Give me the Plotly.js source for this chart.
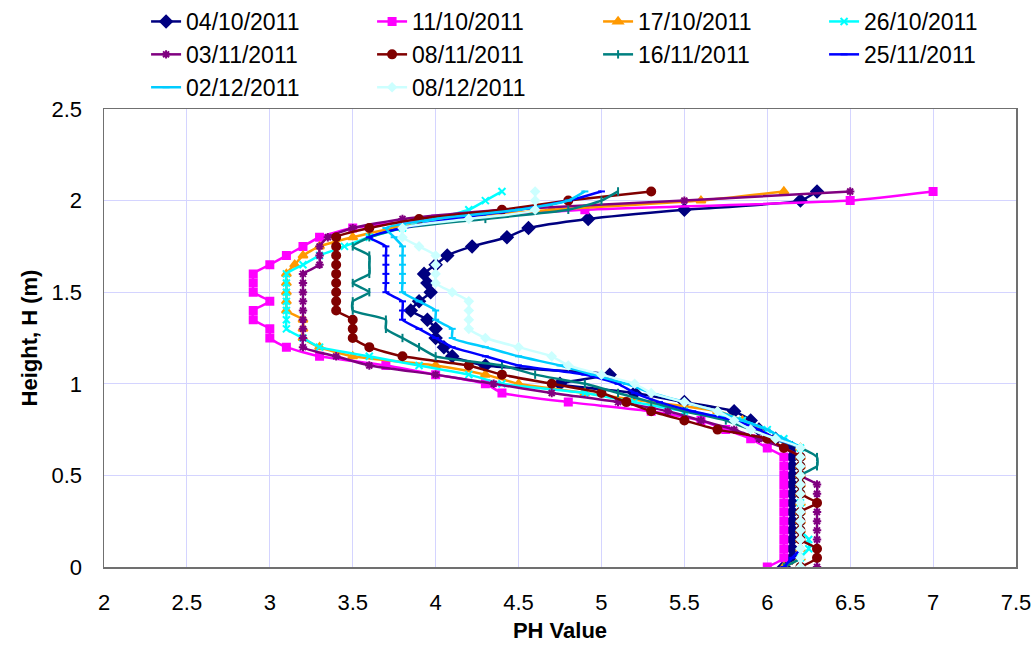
<!DOCTYPE html>
<html>
<head>
<meta charset="utf-8">
<script src="https://cdn.plot.ly/plotly-3.0.1.min.js"></script>
<style>html,body{margin:0;padding:0;background:#fff;}#chart{width:1036px;height:646px;}</style>
</head>
<body>
<div id="chart"></div>
<script>
// Heights (m)
var heights = [0, 0.05, 0.1, 0.15, 0.2, 0.25, 0.3, 0.35, 0.4, 0.45, 0.5, 0.55, 0.6, 0.65,
  0.7, 0.75, 0.8, 0.85, 0.9, 0.95, 1.0, 1.05, 1.1, 1.15, 1.2, 1.25, 1.3, 1.35,
  1.4, 1.45, 1.5, 1.55, 1.6, 1.65, 1.7, 1.75, 1.8, 1.85, 1.9, 1.95, 2.0, 2.05];

var seriesNames = ["04/10/2011", "11/10/2011", "17/10/2011", "26/10/2011", "03/11/2011",
  "08/11/2011", "16/11/2011", "25/11/2011", "02/12/2011", "08/12/2011"];

// pH values per date (bottom to top)
var ph_04_10 = [6.1, 6.15, 6.15, 6.15, 6.15, 6.15, 6.15, 6.15, 6.15, 6.15, 6.15, 6.15, 6.15, 6.15,
  6.05, 5.95, 5.9, 5.8, 5.5, 5.2, 4.75, 5.05, 4.3, 4.1, 4.05, 4.0, 4.0, 3.95,
  3.85, 3.9, 3.97, 3.95, 3.93, 4.0, 4.07, 4.22, 4.43, 4.56, 4.92, 5.5, 6.2, 6.3];
var ph_11_10 = [6.0, 6.1, 6.1, 6.1, 6.1, 6.1, 6.1, 6.1, 6.1, 6.1, 6.1, 6.1, 6.1, 6.0,
  5.9, 5.75, 5.6, 5.3, 4.8, 4.4, 4.3, 4.0, 3.7, 3.3, 3.1, 3.0, 3.0, 2.9,
  2.9, 3.0, 2.9, 2.9, 2.9, 3.0, 3.1, 3.2, 3.3, 3.5, 4.0, 4.9, 6.5, 7.0];
var ph_17_10 = [6.1, 6.2, 6.2, 6.2, 6.2, 6.2, 6.2, 6.2, 6.2, 6.2, 6.2, 6.2, 6.2, 6.2,
  6.05, 5.95, 5.85, 5.7, 5.3, 4.9, 4.5, 4.3, 4.0, 3.5, 3.3, 3.2, 3.2, 3.2,
  3.1, 3.1, 3.1, 3.1, 3.1, 3.15, 3.2, 3.3, 3.5, 3.75, 4.1, 4.7, 5.6, 6.1];
var ph_26_10 = [6.2, 6.2, 6.25, 6.25, 6.2, 6.2, 6.2, 6.2, 6.2, 6.2, 6.2, 6.2, 6.2, 6.2,
  6.1, 6.0, 5.85, 5.5, 5.2, 4.9, 4.4, 4.2, 3.9, 3.6, 3.3, 3.2, 3.1, 3.1,
  3.1, 3.1, 3.1, 3.1, 3.1, 3.2, 3.3, 3.45, 3.6, 3.8, 4.0, 4.2, 4.3, 4.4];
var ph_03_11 = [6.3, 6.3, 6.3, 6.3, 6.3, 6.3, 6.3, 6.3, 6.3, 6.3, 6.2, 6.2, 6.2, 6.1,
  5.95, 5.8, 5.6, 5.4, 5.1, 4.7, 4.35, 4.0, 3.6, 3.4, 3.2, 3.2, 3.2, 3.2,
  3.2, 3.2, 3.2, 3.2, 3.2, 3.3, 3.3, 3.3, 3.35, 3.5, 3.8, 4.4, 5.5, 6.5];
var ph_08_11 = [6.2, 6.3, 6.3, 6.2, 6.2, 6.2, 6.2, 6.3, 6.2, 6.2, 6.2, 6.2, 6.2, 6.1,
  6.0, 5.7, 5.5, 5.3, 5.15, 5.0, 4.7, 4.4, 4.2, 3.8, 3.6, 3.5, 3.5, 3.5,
  3.4, 3.4, 3.4, 3.4, 3.4, 3.4, 3.4, 3.4, 3.4, 3.6, 3.9, 4.4, 4.8, 5.3];
var ph_16_11 = [6.1, 6.2, 6.2, 6.2, 6.2, 6.2, 6.2, 6.2, 6.2, 6.2, 6.2, 6.3, 6.3, 6.2,
  6.05, 5.9, 5.75, 5.5, 5.3, 5.1, 4.9, 4.6, 4.4, 4.0, 3.9, 3.8, 3.7, 3.7,
  3.5, 3.5, 3.6, 3.5, 3.6, 3.6, 3.6, 3.5, 3.6, 3.8, 4.3, 4.8, 5.0, 5.1];
var ph_25_11 = [6.1, 6.15, 6.2, 6.2, 6.2, 6.2, 6.2, 6.2, 6.2, 6.2, 6.2, 6.2, 6.2, 6.2,
  6.05, 5.95, 5.8, 5.55, 5.35, 5.2, 5.1, 4.9, 4.5, 4.3, 4.1, 4.0, 3.9, 3.8,
  3.8, 3.8, 3.7, 3.7, 3.7, 3.7, 3.7, 3.7, 3.6, 3.8, 4.1, 4.5, 4.8, 5.0];
var ph_02_12 = [6.2, 6.2, 6.2, 6.2, 6.2, 6.2, 6.2, 6.2, 6.2, 6.2, 6.2, 6.2, 6.2, 6.2,
  6.1, 6.0, 5.85, 5.7, 5.5, 5.3, 5.15, 4.95, 4.75, 4.5, 4.3, 4.1, 4.1, 4.0,
  4.0, 3.9, 3.8, 3.8, 3.8, 3.8, 3.8, 3.8, 3.75, 3.7, 4.0, 4.5, 4.8, 4.9];
var ph_08_12 = [6.2, 6.2, 6.2, 6.2, 6.2, 6.2, 6.2, 6.2, 6.2, 6.2, 6.2, 6.2, 6.2, 6.2,
  6.05, 5.9, 5.8, 5.7, 5.5, 5.3, 5.2, 5.0, 4.8, 4.7, 4.5, 4.3, 4.2, 4.2,
  4.2, 4.2, 4.1, 4.0, 4.0, 4.0, 4.0, 3.9, 3.8, 3.8, 4.2, 4.6, 4.6, 4.6];

var xTickVals = [2, 2.5, 3, 3.5, 4, 4.5, 5, 5.5, 6, 6.5, 7, 7.5];
var xTickText = ["2", "2.5", "3", "3.5", "4", "4.5", "5", "5.5", "6", "6.5", "7", "7.5"];
var yTickVals = [0, 0.5, 1, 1.5, 2, 2.5];
var yTickText = ["0", "0.5", "1", "1.5", "2", "2.5"];

var allValues = [ph_04_10, ph_11_10, ph_17_10, ph_26_10, ph_03_11, ph_08_11, ph_16_11, ph_25_11, ph_02_12, ph_08_12];
var colors = ["#000080", "#FF00FF", "#FF9900", "#00FFFF", "#800080", "#800000", "#008080", "#0000FF", "#00CCFF", "#CCFFFF"];
var symbols = ["diamond", "square", "triangle-up", "x-thin-open", "asterisk-open", "circle", "line-ns-open", "line-ew-open", "line-ew-open", "diamond"];
var sizes = [9, 7, 8, 7, 7, 8, 6, 5, 5, 6];

var traces = allValues.map(function (vals, i) {
  return {
    x: vals, y: heights, name: seriesNames[i], type: "scatter", mode: "lines+markers",
    line: {color: colors[i], width: 2.5, shape: "spline", smoothing: 0.5},
    marker: {symbol: symbols[i], size: sizes[i], color: colors[i], line: {color: colors[i], width: 2}}
  };
});

var fam = "Liberation Sans, Arial, sans-serif";

var layout = {
  width: 1036, height: 646,
  paper_bgcolor: "#fff", plot_bgcolor: "#fff",
  font: {family: fam, size: 22, color: "#000"},
  margin: {l: 104, r: 20, t: 107, b: 79},
  showlegend: true,
  legend: {
    orientation: "h", xref: "container", yref: "container",
    x: 0.141, y: 1.0, xanchor: "left", yanchor: "top",
    entrywidth: 181, entrywidthmode: "pixels",
    font: {family: fam, size: 23, color: "#000"},
    bgcolor: "rgba(0,0,0,0)", tracegroupgap: 0
  },
  xaxis: {
    range: [2, 7.5], tickvals: xTickVals, ticktext: xTickText,
    showgrid: true, gridcolor: "#D4D4FF", gridwidth: 1,
    showline: true, mirror: true, linecolor: "#707070", linewidth: 1.5,
    zeroline: false, ticks: "", ticklabelstandoff: 15,
    title: {text: "<b>PH Value</b>", font: {family: fam, size: 22}, standoff: 8}
  },
  yaxis: {
    range: [0, 2.5], tickvals: yTickVals, ticktext: yTickText,
    showgrid: true, gridcolor: "#D4D4FF", gridwidth: 1,
    showline: true, mirror: true, linecolor: "#707070", linewidth: 1.5,
    zeroline: false, ticks: "", ticklabelstandoff: 16,
    title: {text: "<b>Height, H (m)</b>", font: {family: fam, size: 22}, standoff: 8}
  }
};

Plotly.newPlot("chart", traces, layout, {displayModeBar: false, staticPlot: true});
</script>
</body>
</html>
